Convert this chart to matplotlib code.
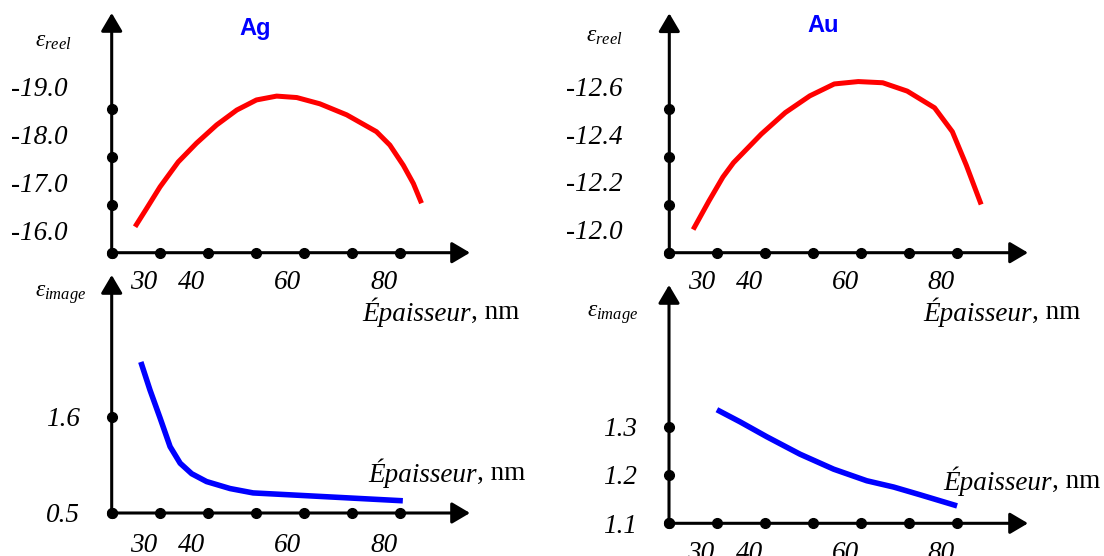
import matplotlib
matplotlib.use('Agg')
import matplotlib.pyplot as plt

# Epaisseur (nm) and permittivity
x_labels = [30, 40, 60, 80]

ag_reel_x = [28.2, 30.6, 33.4, 37.2, 41.0, 45.2, 49.4, 53.5, 57.7, 61.9, 66.7, 72.3, 78.5, 81.3, 84.1, 86.2, 87.9]
ag_reel_y = [-16.07, -16.45, -16.90, -17.42, -17.81, -18.19, -18.50, -18.71, -18.79, -18.76, -18.63,
             -18.40, -18.05, -17.77, -17.35, -16.97, -16.56]
ag_reel_ticks = [-16.0, -17.0, -18.0, -19.0]

ag_imag_x = [29.4, 31.3, 33.4, 35.5, 37.6, 40.0, 43.1, 48.0, 52.8, 59.8, 70.2, 84.0]
ag_imag_y = [2.23, 1.91, 1.59, 1.26, 1.07, 0.95, 0.86, 0.78, 0.73, 0.71, 0.68, 0.64]
ag_imag_ticks = [0.5, 1.6]

au_reel_x = [28.3, 31.6, 34.5, 36.7, 42.5, 47.5, 52.6, 57.7, 62.7, 67.8, 72.9, 78.6, 82.3, 85.2, 88.3]
au_reel_y = [-12.00, -12.12, -12.22, -12.28, -12.40, -12.49, -12.56, -12.61, -12.62, -12.615, -12.58,
             -12.51, -12.41, -12.27, -12.105]
au_reel_ticks = [-12.0, -12.2, -12.4, -12.6]

au_imag_x = [33.3, 38.1, 43.7, 50.6, 57.6, 64.5, 70.1, 75.6, 83.3]
au_imag_y = [1.335, 1.310, 1.279, 1.243, 1.212, 1.188, 1.175, 1.159, 1.136]
au_imag_ticks = [1.1, 1.2, 1.3]

W, H = 1104, 556
PT = 0.72  # points per pixel at dpi 100
FS = 19.5

plt.rcParams['font.family'] = 'Liberation Serif'
plt.rcParams['mathtext.fontset'] = 'custom'
plt.rcParams['mathtext.rm'] = 'Liberation Serif'
plt.rcParams['mathtext.it'] = 'Liberation Serif:italic'


def px_axes(fig, ox, oy, tx, ty):
    # origin pixel (ox, oy) and arrow tips (tx, ty), y measured from top
    ax = fig.add_axes([ox / W, 1 - oy / H, (tx - ox) / W, (oy - ty) / H])
    ax.set_axis_off()
    return ax


def draw_panel(ax, xlim, ylim, x_dots, y_dots, y_ticks, ypad, xoff,
               curve_x, curve_y, color, lw):
    ax.set_xlim(*xlim)
    ax.set_ylim(*ylim)

    arrow = dict(arrowstyle='-|>,head_length=11,head_width=6.5', color='black',
                 fc='black', lw=2.2, shrinkA=0, shrinkB=0, mutation_scale=1)
    ax.annotate('', xy=(1, 0), xytext=(0, 0), xycoords='axes fraction', arrowprops=arrow)
    ax.annotate('', xy=(0, 1), xytext=(0, 0), xycoords='axes fraction', arrowprops=arrow)

    ax.plot(curve_x, curve_y, color=color, lw=lw, solid_capstyle='butt',
            solid_joinstyle='round', clip_on=False, zorder=3)

    ax.plot(x_dots, [ylim[0]] * len(x_dots), 'o', color='black', ms=7, clip_on=False, zorder=4)
    ax.plot([xlim[0]] * len(y_dots), y_dots, 'o', color='black', ms=7, clip_on=False, zorder=4)

    for v in x_labels:
        ax.annotate(str(v), xy=(v, 0), xycoords=('data', 'axes fraction'),
                    xytext=(0, -xoff * PT), textcoords='offset points',
                    ha='center', va='center_baseline', fontsize=FS, style='italic',
                    annotation_clip=False)
    for v in y_ticks:
        ax.annotate(f'{v:.1f}', xy=(0, v), xycoords=('axes fraction', 'data'),
                    xytext=(-ypad * PT, 0), textcoords='offset points',
                    ha='right', va='center_baseline', fontsize=FS, style='italic',
                    annotation_clip=False)


def axis_title(fig, y, split_x):
    fig.text(split_x / W, 1 - y / H, 'Épaisseur', ha='right', va='center_baseline',
             fontsize=FS, style='italic')
    fig.text(split_x / W, 1 - y / H, ', nm', ha='left', va='center_baseline', fontsize=FS)


def main():
    fig = plt.figure(figsize=(W / 100, H / 100), dpi=100)

    x0 = 23.33
    x_dots = [x0 + 10 * k for k in range(7)]

    # Ag, partie reelle
    ax = px_axes(fig, 111.7, 252.7, 470, 13)
    draw_panel(ax, (x0, 98.0), (-15.53, -20.52), x_dots,
               [-15.53 - k for k in range(4)], ag_reel_ticks, 44, 27,
               ag_reel_x, ag_reel_y, '#ff0000', 3.6)

    # Au, partie reelle
    ax = px_axes(fig, 669.3, 252.7, 1028, 13.3)
    draw_panel(ax, (x0, 98.06), (-11.903, -12.906), x_dots,
               [-11.903 - 0.2 * k for k in range(4)], au_reel_ticks, 47, 27,
               au_reel_x, au_reel_y, '#ff0000', 3.6)

    # Ag, partie imaginaire
    ax = px_axes(fig, 111.7, 513, 470, 275)
    draw_panel(ax, (x0, 98.0), (0.5, 3.226), x_dots, ag_imag_ticks,
               ag_imag_ticks, 32, 29, ag_imag_x, ag_imag_y, '#0000ff', 4.0)

    # Au, partie imaginaire
    ax = px_axes(fig, 669, 523.3, 1028, 285)
    draw_panel(ax, (x0, 98.06), (1.1, 1.593), x_dots, au_imag_ticks,
               au_imag_ticks, 32, 27, au_imag_x, au_imag_y, '#0000ff', 4.0)

    # titres
    fig.text(255 / W, 1 - 28 / H, 'Ag', ha='center', va='center', fontsize=17,
             fontweight='bold', family='Liberation Sans', color='#0000ff')
    fig.text(823 / W, 1 - 25 / H, 'Au', ha='center', va='center', fontsize=17,
             fontweight='bold', family='Liberation Sans', color='#0000ff')

    # etiquettes des axes y
    fig.text(53 / W, 1 - 42 / H, r'$\varepsilon_{reel}$', ha='center', va='center', fontsize=17)
    fig.text(604 / W, 1 - 36 / H, r'$\varepsilon_{reel}$', ha='center', va='center', fontsize=17)
    fig.text(61 / W, 1 - 295 / H, r'$\varepsilon_{image}$', ha='center', va='center', fontsize=17)
    fig.text(613 / W, 1 - 315 / H, r'$\varepsilon_{image}$', ha='center', va='center', fontsize=17)

    # etiquettes des axes x
    axis_title(fig, 309, 471)
    axis_title(fig, 470.5, 477)
    axis_title(fig, 309, 1032)
    axis_title(fig, 478, 1052)

    fig.savefig('out.png', dpi=100)
    plt.close(fig)


if __name__ == '__main__':
    main()
